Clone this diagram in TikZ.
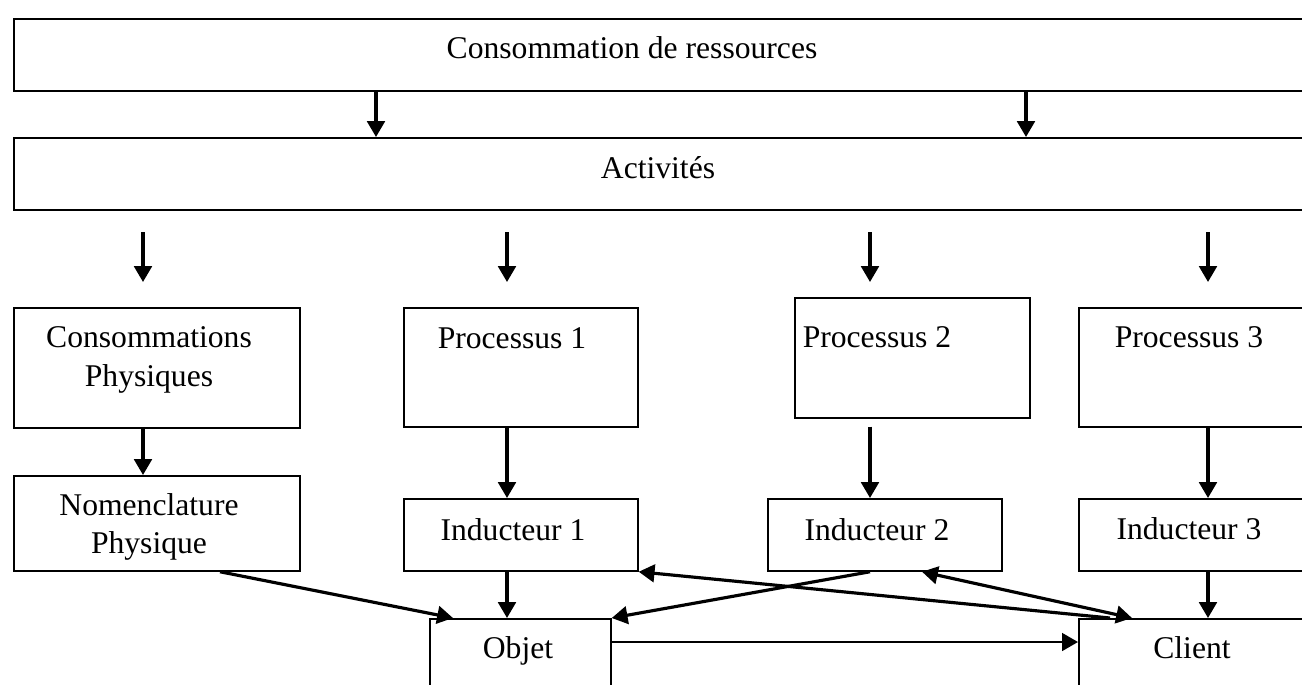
\documentclass[tikz,border=0pt]{standalone}
\usepackage{fontspec}
\setmainfont{Liberation Serif}
\usetikzlibrary{arrows.meta,calc}

\begin{document}
\begin{tikzpicture}[x=0.02cm, y=-0.02cm,
  box/.style={draw, line width=1pt, inner sep=0pt, anchor=north west},
  txt/.style={font=\fontsize{18}{22}\selectfont, inner sep=0pt, align=center},
  flow/.style={line width=1.8pt, -{Triangle[width=10pt,length=9pt]}}]
\useasboundingbox (0,0) rectangle (1302,684);
\clip (0,0) rectangle (1302,684);

% boxes
\node[box, minimum width=26.54cm, minimum height=1.44cm] (res) at (13,18) {};
\node[box, minimum width=26.54cm, minimum height=1.44cm] (act) at (13,137) {};
\node[box, minimum width=5.72cm, minimum height=2.40cm] (cp) at (13,307) {};
\node[box, minimum width=5.72cm, minimum height=1.90cm] (nom) at (13,475) {};
\node[box, minimum width=4.68cm, minimum height=2.38cm] (pa) at (403,307) {};
\node[box, minimum width=4.70cm, minimum height=2.40cm] (pb) at (794,297) {};
\node[box, minimum width=5.24cm, minimum height=2.38cm] (pc) at (1078,307) {};
\node[box, minimum width=4.68cm, minimum height=1.44cm] (ia) at (403,498) {};
\node[box, minimum width=4.68cm, minimum height=1.44cm] (ib) at (767,498) {};
\node[box, minimum width=5.24cm, minimum height=1.44cm] (ic) at (1078,498) {};
\node[box, minimum width=3.62cm, minimum height=2.04cm] (obj) at (429,618) {};
\node[box, minimum width=5.24cm, minimum height=2.04cm] (cli) at (1078,618) {};

% texts
\node[txt, anchor=base] (res-t) at (632,58) {Consommation de ressources};
\node[txt, anchor=base] (act-t) at (658,178) {Activités};
\node[txt] (cp-t) at (149,360) {Consommations\\Physiques};
\node[txt] (nom-t) at (149,527) {Nomenclature\\Physique};
\node[txt, anchor=base] (pa-t) at (512,348) {Processus 1};
\node[txt, anchor=base] (pb-t) at (877,347) {Processus 2};
\node[txt, anchor=base] (pc-t) at (1189,347) {Processus 3};
\node[txt, anchor=base] (ia-t) at (513,540) {Inducteur 1};
\node[txt, anchor=base] (ib-t) at (877,540) {Inducteur 2};
\node[txt, anchor=base] (ic-t) at (1189,539) {Inducteur 3};
\node[txt, anchor=base] (obj-t) at (518,658) {Objet};
\node[txt, anchor=base] (cli-t) at (1192,658) {Client};

% arrow columns
\coordinate (c1) at (376,0);
\coordinate (c2) at (1026,0);
\foreach \x [count=\k] in {143,507,870,1208} {
  \coordinate (s\k) at (\x,232);
  \coordinate (e\k) at (\x,282);
}

\draw[flow] (res.south -| c1) -- (act.north -| c1);
\draw[flow] (res.south -| c2) -- (act.north -| c2);
\foreach \k in {1,...,4}
  \draw[flow] (s\k) -- (e\k);

\draw[flow] (cp.south -| s1) -- (nom.north -| s1);
\draw[flow] (pa.south -| s2) -- (ia.north -| s2);
\draw[flow, shorten <=0.16cm] (pb.south -| s3) -- (ib.north -| s3);
\draw[flow] (pc.south -| s4) -- (ic.north -| s4);
\draw[flow] (ia.south -| s2) -- (obj.north -| s2);
\draw[flow] (ic.south -| s4) -- (cli.north -| s4);

% links to objet and client
\draw[flow] ($(nom.south west)+(207,0)$) -- ($(obj.north west)+(24,0)$);
\draw[flow] (ib.south -| s3) -- (obj.north east);
\draw[flow] ($(cli.north west)+(32,0)$) -- (ia.south east);
\draw[flow, {Triangle[width=10pt,length=9pt]}-{Triangle[width=10pt,length=9pt]}] ($(ib.south west)+(155,0)$) -- ($(cli.north west)+(54,0)$);
\draw[flow, line width=1.4pt] ($(obj.north east)+(0,24)$) -- ($(cli.north west)+(0,24)$);
\end{tikzpicture}
\end{document}
